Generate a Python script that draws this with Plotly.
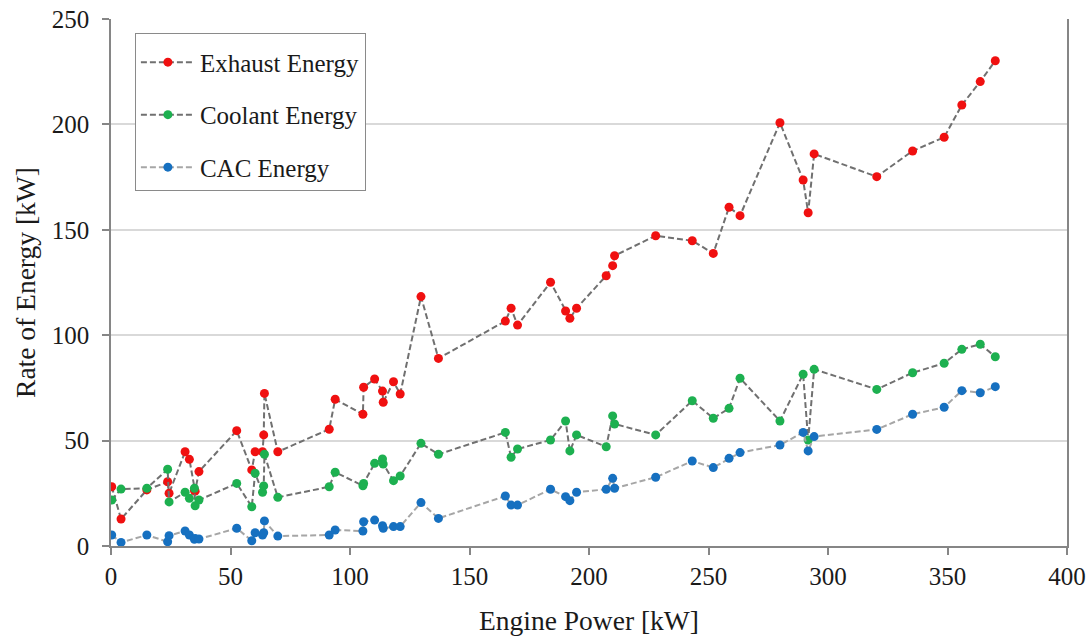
import plotly.graph_objects as go

engine_power = [0.3, 4.2, 15.0, 23.7, 24.3, 31.0, 32.8, 34.9, 35.2, 36.8,
                52.6, 58.9, 60.3, 63.4, 63.9, 64.2, 69.8,
                91.3, 93.8, 105.4, 105.7, 110.3, 113.6, 113.9, 118.2, 121.0, 129.7, 137.0,
                165.0, 167.4, 170.1, 183.9, 190.2, 192.0, 194.8, 207.2, 209.9, 210.7, 227.9,
                243.2, 252.0, 258.6, 263.2, 279.9, 289.6, 291.7, 294.2,
                320.4, 335.4, 348.6, 356.0, 363.7, 370.0]

exhaust = [28.1, 12.8, 26.6, 30.5, 25.0, 44.7, 41.1, 26.4, 26.0, 35.3,
           54.7, 36.1, 44.7, 44.7, 52.7, 72.4, 44.7,
           55.4, 69.6, 62.5, 75.3, 79.2, 73.5, 68.2, 77.9, 72.1, 118.3, 89.0,
           106.7, 112.8, 104.8, 125.1, 111.5, 108.0, 112.8, 128.2, 133.0, 137.7, 147.2,
           144.8, 138.8, 160.7, 156.7, 200.8, 173.6, 158.1, 186.0,
           175.2, 187.4, 193.9, 209.2, 220.3, 230.2]

coolant = [21.8, 27.0, 27.4, 36.4, 20.9, 25.5, 22.6, 27.4, 19.1, 21.8,
           29.7, 18.6, 34.5, 25.5, 28.5, 43.5, 23.1,
           28.1, 35.0, 28.6, 29.7, 39.2, 41.3, 38.9, 31.0, 33.2, 48.7, 43.5,
           53.9, 42.1, 46.0, 50.3, 59.3, 45.1, 52.7, 47.1, 61.7, 57.9, 52.7,
           68.9, 60.6, 65.3, 79.6, 59.3, 81.5, 50.3, 83.8,
           74.3, 82.2, 86.7, 93.3, 95.7, 89.8]

cac = [5.2, 1.7, 5.2, 2.0, 4.9, 7.1, 5.2, 3.2, 3.5, 3.3,
       8.4, 2.5, 6.3, 5.2, 6.3, 11.9, 4.7,
       5.2, 7.6, 7.1, 11.5, 12.3, 9.6, 8.4, 9.2, 9.2, 20.6, 13.1,
       23.7, 19.4, 19.4, 26.9, 23.4, 21.5, 25.5, 26.9, 32.1, 27.4, 32.6,
       40.3, 37.2, 41.6, 44.3, 47.9, 53.9, 45.1, 51.9,
       55.3, 62.5, 65.8, 73.7, 72.7, 75.6]

series_names = ["Exhaust Energy", "Coolant Energy", "CAC Energy"]
marker_colors = ["#f01010", "#1db050", "#1670c0"]
line_colors = ["#707070", "#707070", "#a6a6a6"]

FONT = "'Liberation Serif', 'Times New Roman', serif"
TXT = "#1a1a1a"
AXC = "#868686"

fig = go.Figure()
for i, (name, ys) in enumerate(zip(series_names, [exhaust, coolant, cac])):
    fig.add_trace(go.Scatter(
        x=engine_power, y=ys, name=name, mode="lines+markers",
        legendgroup=name,
        line=dict(color=line_colors[i], width=2, dash="6px,3px"),
        marker=dict(color=marker_colors[i], size=9),
    ))

fig.update_layout(
    width=1092, height=636,
    margin=dict(l=111, r=25, t=19, b=90, autoexpand=False),
    plot_bgcolor="white", paper_bgcolor="white",
    font=dict(family=FONT, size=25, color=TXT),
    showlegend=True,
    legend=dict(
        x=0.025, y=0.973, xanchor="left", yanchor="top",
        bgcolor="white", bordercolor="#8a8a8a", borderwidth=1,
        font=dict(family=FONT, size=25, color=TXT),
        title=dict(text=" ", font=dict(size=4)),
        tracegroupgap=17,
        itemwidth=54,
    ),
    xaxis=dict(
        range=[0, 400], dtick=50, tick0=0,
        showgrid=False, zeroline=False,
        showline=True, linecolor=AXC, linewidth=1.5,
        ticks="outside", ticklen=7, tickcolor=AXC, tickwidth=1.5,
        tickfont=dict(family=FONT, size=25, color=TXT),
        title=dict(text="Engine Power [kW]", font=dict(family=FONT, size=27.5, color=TXT), standoff=22),
        automargin=False,
    ),
    yaxis=dict(
        range=[0, 250], dtick=50, tick0=0,
        showgrid=True, gridcolor="#d9d9d9", gridwidth=1.5,
        zeroline=False,
        showline=True, linecolor=AXC, linewidth=1.5, mirror=True,
        ticks="outside", ticklen=7, tickcolor=AXC, tickwidth=1.5,
        ticklabelstandoff=8,
        tickfont=dict(family=FONT, size=25, color=TXT),
        title=dict(text="Rate of Energy [kW]", font=dict(family=FONT, size=27.5, color=TXT), standoff=8),
        automargin=False,
    ),
    yaxis2=dict(
        overlaying="y", side="left", range=[0, 250], dtick=50, tick0=0,
        showgrid=False, zeroline=False, showline=False, showticklabels=False,
        ticks="inside", ticklen=6, tickcolor=AXC, tickwidth=1.5,
    ),
)

fig.write_html("out.html")
